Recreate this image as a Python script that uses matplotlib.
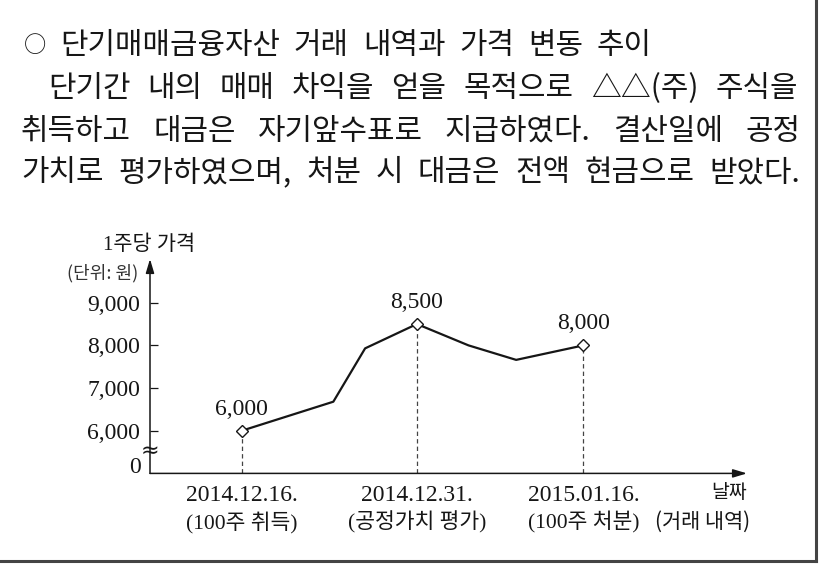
import matplotlib.pyplot as plt
from matplotlib.lines import Line2D

plt.rcParams['font.family'] = ['Liberation Serif', 'Noto Sans CJK KR']

# 데이터
x_pos = [0, 0.536, 0.722, 1.025, 1.327, 1.606, 2.0]
price = [6000, 6680, 7930, 8500, 8000, 7660, 8000]
mark_idx = [0, 3, 6]
dates = ['2014.12.16.', '2014.12.31.', '2015.01.16.']
events = ['(100주 취득)', '(공정가치 평가)', '(100주 처분)']
y_ticks = [6000, 7000, 8000, 9000]
y_labels = ['6,000', '7,000', '8,000', '9,000']
y_floor = 5000  # 축 생략(≈) 아래의 0 위치

ink = '#161616'
kor = 'Noto Sans CJK KR'

W, H = 820, 567
fig = plt.figure(figsize=(8.2, 5.67), dpi=100)
fig.patch.set_facecolor('white')


def fx(px):
    return px / W


def fy(py):
    return 1 - py / H


# 본문 (양쪽 정렬)
def justify(words, left, right, yc, size=21.5):
    objs = [fig.text(0, fy(yc), w, fontsize=size, family=kor, va='center', color=ink)
            for w in words]
    r = fig.canvas.get_renderer()
    widths = [o.get_window_extent(r).width for o in objs]
    gap = (right - left - sum(widths)) / (len(words) - 1)
    x = left
    for o, w in zip(objs, widths):
        o.set_x(fx(x))
        x += w + gap


fig.text(fx(35), fy(46), '○', fontsize=16, family=kor, ha='center', va='center', color=ink)
justify(['단기매매금융자산', '거래', '내역과', '가격', '변동', '추이'], 60, 652, 46)
justify(['단기간', '내의', '매매', '차익을', '얻을', '목적으로', '△△(주)', '주식을'], 48, 798, 89)
justify(['취득하고', '대금은', '자기앞수표로', '지급하였다.', '결산일에', '공정'], 21, 800, 131)
justify(['가치로', '평가하였으며,', '처분', '시', '대금은', '전액', '현금으로', '받았다.'], 21, 800, 173)

# 그래프
ax = fig.add_axes([fx(150), fy(473.4), fx(747) - fx(150), fy(259) - fy(473.4)])
ax.set_xlim(-0.537, 2.957)
ax.set_ylim(y_floor, 10024)
for s in ax.spines.values():
    s.set_visible(False)
ax.patch.set_alpha(0)

arrow = dict(arrowstyle='-|>,head_length=0.6,head_width=0.18', color=ink, lw=1.1,
             mutation_scale=14, shrinkA=0, shrinkB=0)
ax.annotate('', xy=(0, 1), xytext=(0, 0), xycoords='axes fraction', arrowprops=arrow)
ax.annotate('', xy=(1, 0), xytext=(0, 0), xycoords='axes fraction', arrowprops=arrow)

ax.set_xticks([])
ax.set_yticks(y_ticks, y_labels)
ax.tick_params(axis='y', direction='in', length=5.8, width=0.9, pad=7,
               labelsize=17, colors=ink)
ax.annotate('0', xy=(0, y_floor), xycoords=('axes fraction', 'data'), xytext=(-6.5, 4.6),
            textcoords='offset points', ha='right', va='center', fontsize=17, color=ink)
ax.text(0, 5523, '≈', transform=ax.get_yaxis_transform(), ha='center', va='center',
        fontsize=16, family='DejaVu Sans', color=ink)

ax.plot(x_pos, price, color=ink, lw=1.6, zorder=3)
mx = [x_pos[i] for i in mark_idx]
mv = [price[i] for i in mark_idx]
ax.vlines(mx, y_floor, mv, colors='#444444', linestyles=(0, (3.5, 2.5)), lw=0.9, zorder=2)
ax.plot(mx, mv, 'D', ms=6.5, mfc='white', mec=ink, mew=1, zorder=4)
for x, v in zip(mx, mv):
    ax.annotate(f'{v:,}', xy=(x, v), xytext=(0, 15.5), textcoords='offset points',
                ha='center', va='center', fontsize=17, color=ink)

for x, d, e in zip(mx, dates, events):
    ax.annotate(d, xy=(x, 0), xycoords=('data', 'axes fraction'), xytext=(0, -15.6),
                textcoords='offset points', ha='center', va='center', fontsize=17, color=ink)
    ax.annotate(e, xy=(x, 0), xycoords=('data', 'axes fraction'), xytext=(0, -35),
                textcoords='offset points', ha='center', va='center', fontsize=15.5, color=ink)

ax.annotate('날짜', xy=(1, 0), xycoords='axes fraction', xytext=(0, -14.1),
            textcoords='offset points', ha='right', va='center', fontsize=14,
            family=kor, color=ink)
ax.annotate('(거래 내역)', xy=(1, 0), xycoords='axes fraction', xytext=(2, -35),
            textcoords='offset points', ha='right', va='center', fontsize=15,
            family=kor, color=ink)

fig.text(fx(149), fy(245), '1주당 가격', fontsize=15, ha='center', va='center', color=ink)
fig.text(fx(103), fy(273), '(단위: 원)', fontsize=13, family=kor, ha='center', va='center',
         color='#333333')

# 테두리 (오른쪽, 아래)
fig.add_artist(Line2D([fx(816), fx(816)], [fy(561), 1], color='#444444', lw=2.2,
                      solid_capstyle='projecting'))
fig.add_artist(Line2D([0, fx(816)], [fy(561), fy(561)], color='#444444', lw=2.2,
                      solid_capstyle='projecting'))

fig.savefig('out.png', dpi=100)
